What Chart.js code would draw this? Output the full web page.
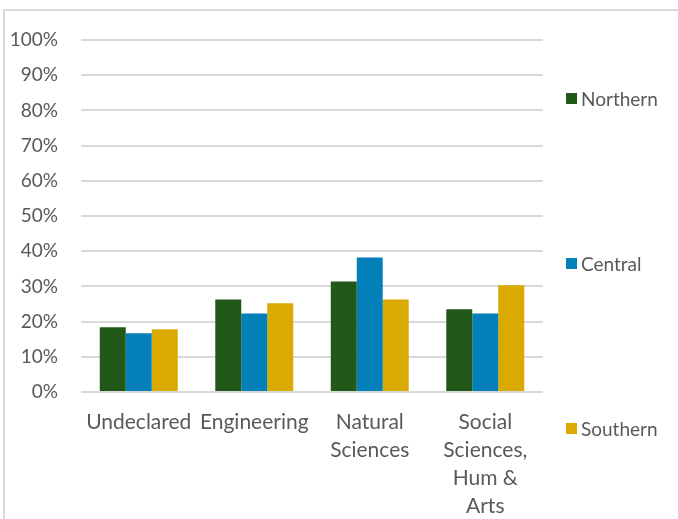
<!DOCTYPE html>
<html>
<head>
<meta charset="utf-8">
<script src="https://cdn.jsdelivr.net/npm/chart.js@4/dist/chart.umd.min.js"></script>
<style>
  html, body { margin: 0; padding: 0; background: #fff; }
  #wrap { position: relative; width: 678px; height: 519px; overflow: hidden; }
  #frame {
    position: absolute; left: 3px; top: 9px; right: -2px; bottom: -2px;
    border-left: 2px solid #d9d9d9; border-top: 2px solid #d9d9d9;
  }
  #chart { position: absolute; left: 0; top: 0; }
  #legend {
    position: absolute; left: 566px; top: 87px; height: 352px;
    display: flex; flex-direction: column; justify-content: space-between;
    font-family: Lato, "Open Sans", sans-serif; font-size: 19px; color: #595959;
  }
  #legend .item { display: flex; align-items: center; height: 22px; }
  #legend .box { width: 11px; height: 11px; margin-right: 4px; }
</style>
</head>
<body>
<div id="wrap">
  <div id="frame"></div>
  <canvas id="chart" width="678" height="519"></canvas>
  <div id="legend"></div>
</div>
<script>
// Share of each region by field (percent)
const categories = ['Undeclared', 'Engineering', ['Natural', 'Sciences'], ['Social', 'Sciences,', 'Hum &', 'Arts']];
const regions = ['Northern', 'Central', 'Southern'];
const northern = [18.4, 26.3, 31.4, 23.5];
const central = [16.7, 22.3, 38.2, 22.3];
const southern = [17.8, 25.2, 26.3, 30.3];
const colors = ['#235918', '#0380b9', '#daaa00'];
const yTicks = [0, 10, 20, 30, 40, 50, 60, 70, 80, 90, 100];

const series = [northern, central, southern];
const font = 'Lato, "Open Sans", sans-serif';

const chart = new Chart(document.getElementById('chart'), {
  type: 'bar',
  data: {
    labels: categories,
    datasets: regions.map((name, i) => ({
      label: name,
      data: series[i],
      backgroundColor: colors[i],
      borderWidth: 0,
      categoryPercentage: 0.675,
      barPercentage: 1
    }))
  },
  options: {
    responsive: false,
    animation: false,
    layout: { padding: { top: 40, right: 135, left: 8, bottom: 0 } },
    plugins: { legend: { display: false }, tooltip: { enabled: false } },
    scales: {
      x: {
        grid: { display: false, drawTicks: false },
        border: { display: false },
        ticks: {
          autoSkip: false, maxRotation: 0, padding: 16,
          color: '#595959', font: { family: font, size: 21, lineHeight: 28 / 21 }
        },
        afterFit: axis => { axis.height = 519 - 392; }
      },
      y: {
        min: 0, max: 100,
        afterBuildTicks: axis => { axis.ticks = yTicks.map(v => ({ value: v })); },
        grid: { color: '#d9d9d9', lineWidth: 2, drawTicks: false },
        border: { display: false },
        ticks: {
          padding: 23, color: '#595959',
          font: { family: font, size: 19 },
          callback: v => v + '%'
        },
        afterFit: axis => { axis.width = 81 - 8; }
      }
    }
  }
});

// Legend spread down the right side, one entry per region
const legend = document.getElementById('legend');
chart.data.datasets.forEach(ds => {
  const item = document.createElement('div');
  item.className = 'item';
  const box = document.createElement('span');
  box.className = 'box';
  box.style.background = ds.backgroundColor;
  const label = document.createElement('span');
  label.textContent = ds.label;
  item.appendChild(box);
  item.appendChild(label);
  legend.appendChild(item);
});
</script>
</body>
</html>
